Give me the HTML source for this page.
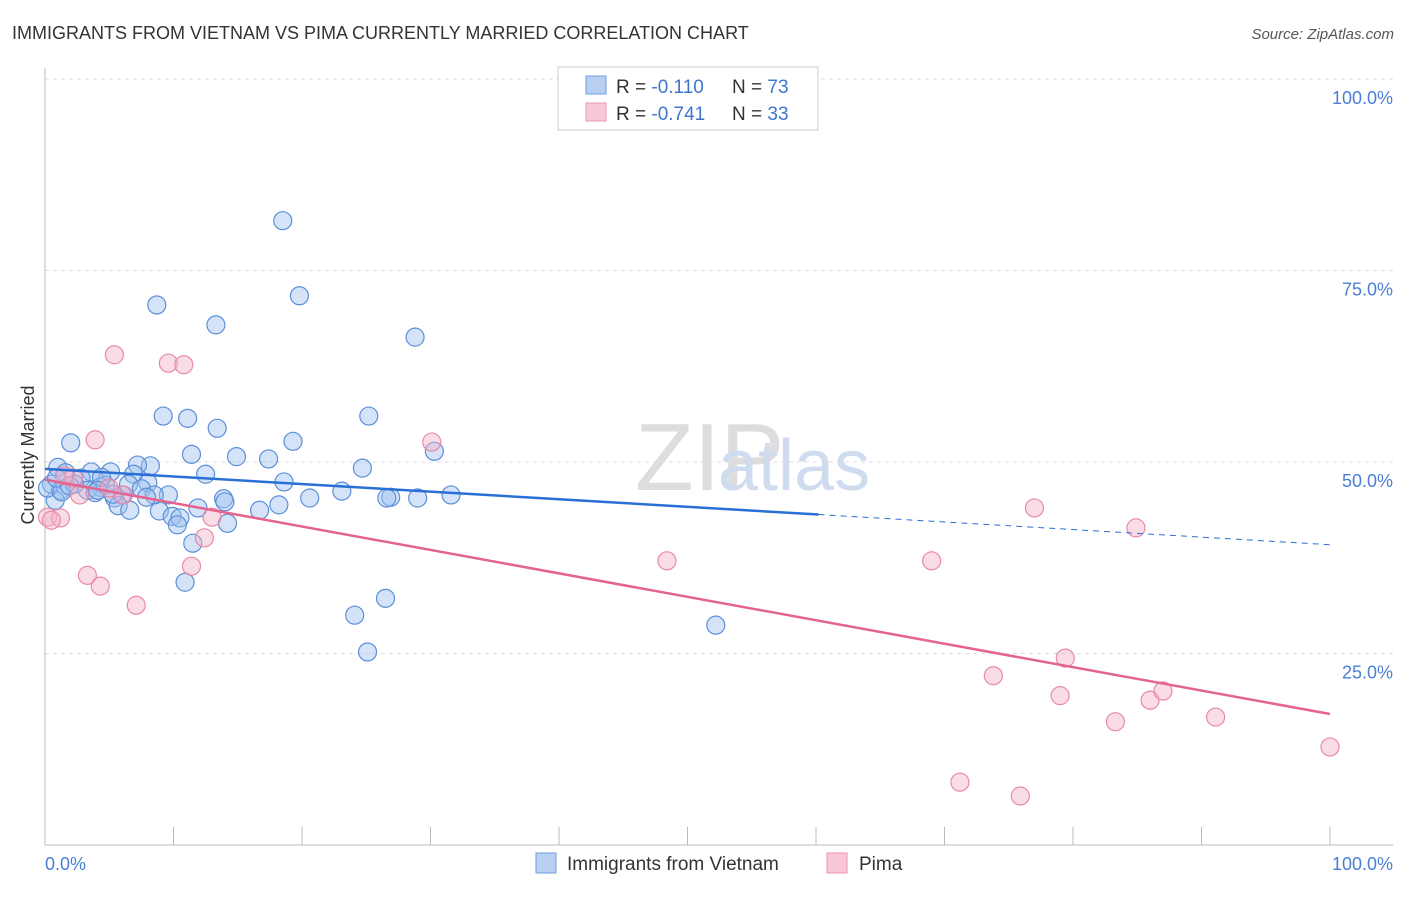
<!DOCTYPE html>
<html><head><meta charset="utf-8"><style>
body{margin:0;background:#fff;font-family:"Liberation Sans",sans-serif;}
svg text{font-family:"Liberation Sans",sans-serif;}
</style></head><body>
<svg width="1406" height="892" xmlns="http://www.w3.org/2000/svg" id="chart">
<text x="12" y="39" font-size="18" fill="#333">IMMIGRANTS FROM VIETNAM VS PIMA CURRENTLY MARRIED CORRELATION CHART</text>
<text x="1394" y="39" font-size="15" fill="#555" text-anchor="end" font-style="italic">Source: ZipAtlas.com</text>
<text x="635" y="490" font-size="96" fill="#ddd" font-family="Liberation Serif">ZIP</text>
<text x="718" y="490" font-size="72" fill="#cfdcf0">atlas</text>
<g id="grid"></g>
<g id="axes"></g>
<g id="pts"></g>
<g id="trends"></g>
<text transform="translate(34,455) rotate(-90)" font-size="18" fill="#333" text-anchor="middle">Currently Married</text>
<text x="45" y="870" font-size="18" fill="#4a7fd4">0.0%</text>
<text x="1393" y="870" font-size="18" fill="#4a7fd4" text-anchor="end">100.0%</text>
<g>
<rect x="558" y="67" width="260" height="63" fill="#fff" stroke="#ccc"/>
<rect x="586" y="76" width="20" height="18" fill="#b9d0f3" stroke="#6f9ee0"/>
<rect x="586" y="103" width="20" height="18" fill="#f8c8d7" stroke="#ec93b0"/>
<text x="616" y="93" font-size="19" fill="#333">R = <tspan fill="#3f74cf">-0.110</tspan><tspan x="732">N = </tspan><tspan fill="#3f74cf">73</tspan></text>
<text x="616" y="120" font-size="19" fill="#333">R = <tspan fill="#3f74cf">-0.741</tspan><tspan x="732">N = </tspan><tspan fill="#3f74cf">33</tspan></text>
</g>
<g>
<rect x="536" y="853" width="20" height="20" fill="#b9d0f3" stroke="#6f9ee0"/>
<text x="567" y="870" font-size="19" fill="#333">Immigrants from Vietnam</text>
<rect x="827" y="853" width="20" height="20" fill="#f8c8d7" stroke="#ec93b0"/>
<text x="859" y="870" font-size="19" fill="#333">Pima</text>
</g>
</svg>
<script>
const yTicks=[25,50,75,100];
const yTickLabels=["25.0%","50.0%","75.0%","100.0%"];
const blueX=[18.5,19.8,8.7,13.3,28.8,9.2,11.1,25.2,13.4,2.0,19.3,30.3,11.4,14.9,17.4,8.2,1.0,7.2,24.7,3.6,12.5,5.1,6.9,1.6,2.8,18.6,8.0,6.5,0.5,4.3,1.2,3.3,7.5,23.1,3.9,6.0,9.6,31.6,20.6,26.9,29.0,26.6,13.9,14.0,5.4,0.8,5.7,11.9,6.6,8.9,16.7,18.2,9.9,10.5,14.2,10.3,11.5,10.9,24.1,26.5,25.1,52.2,0.2,1.3,2.3,4.7,8.5,7.9,4.4,1.9,0.9,4.1,5.3];
const blueY=[81.5,71.7,70.5,67.9,66.3,56.0,55.7,56.0,54.4,52.5,52.7,51.4,51.0,50.7,50.4,49.5,49.3,49.6,49.2,48.7,48.4,48.7,48.4,48.6,47.9,47.4,47.3,47.1,47.1,46.7,46.3,46.3,46.5,46.2,46.0,45.7,45.7,45.7,45.3,45.4,45.3,45.3,45.2,44.8,45.3,45.0,44.3,44.0,43.7,43.6,43.7,44.4,42.9,42.7,42.0,41.8,39.4,34.3,30.0,32.2,25.2,28.7,46.6,46.1,47.1,47.0,45.7,45.4,48.0,46.9,47.9,46.3,45.8];
const pinkX=[5.4,9.6,10.8,3.9,30.1,0.2,1.2,3.3,4.3,7.1,11.4,12.4,13.0,2.7,6.1,2.2,48.4,69.0,77.0,84.9,73.8,79.4,79.0,83.3,86.0,87.0,91.1,100,71.2,75.9,5.0,1.5,0.5];
const pinkY=[64.0,62.9,62.7,52.9,52.6,42.8,42.7,35.2,33.8,31.3,36.4,40.1,42.8,45.7,45.7,47.9,37.1,37.1,44.0,41.4,22.1,24.4,19.5,16.1,18.9,20.1,16.7,12.8,8.2,6.4,46.6,48.2,42.4];
const blueTrend=[49.1,39.2];
const blueSolidEnd=60.2;
const pinkTrend=[47.7,17.1];
const NS="http://www.w3.org/2000/svg";
const sx=v=>45+v*12.85, sy=v=>845-v*7.66;
function mk(t,a,p){const e=document.createElementNS(NS,t);for(const k in a)e.setAttribute(k,a[k]);p.appendChild(e);return e;}
const grid=document.getElementById('grid'),axes=document.getElementById('axes'),pts=document.getElementById('pts'),tr=document.getElementById('trends');
yTicks.forEach((t,i)=>{
 const l=mk('line',{x1:45,x2:1393,y1:sy(t),y2:sy(t),stroke:'#ddd','stroke-dasharray':'4,4'},grid);
 
 
 const tx=mk('text',{x:1393,y:sy(t)+25,'font-size':18,fill:'#4a7fd4','text-anchor':'end'},grid);
 tx.textContent=yTickLabels[i];
 
 
});
const ya=mk('line',{x1:45,x2:45,y1:68,y2:845,stroke:'#bbb'},axes);


const xa=mk('line',{x1:45,x2:1393,y1:845,y2:845,stroke:'#bbb'},axes);


for(let i=1;i<=10;i++){const t=mk('line',{x1:sx(i*10),x2:sx(i*10),y1:827,y2:845,stroke:'#bbb'},axes);
 
 }
blueX.forEach((x,i)=>{const c=mk('circle',{cx:sx(x),cy:sy(blueY[i]),r:9,fill:'rgba(160,192,240,0.45)',stroke:'#5b8fd9','stroke-width':1.2},pts);
 
 });
pinkX.forEach((x,i)=>{const c=mk('circle',{cx:sx(x),cy:sy(pinkY[i]),r:9,fill:'rgba(245,178,200,0.45)',stroke:'#e88aa8','stroke-width':1.2},pts);
 
 });
const by=x=>blueTrend[0]+(blueTrend[1]-blueTrend[0])*x/100;
const b1=mk('line',{x1:sx(0),y1:sy(by(0)),x2:sx(blueSolidEnd),y2:sy(by(blueSolidEnd)),stroke:'#2a6fd6','stroke-width':2.5},tr);


const b2=mk('line',{x1:sx(blueSolidEnd),y1:sy(by(blueSolidEnd)),x2:sx(100),y2:sy(by(100)),stroke:'#2a6fd6','stroke-width':1,'stroke-dasharray':'6,5'},tr);


const p1=mk('line',{x1:sx(0),y1:sy(pinkTrend[0]),x2:sx(100),y2:sy(pinkTrend[1]),stroke:'#e4648f','stroke-width':2.5},tr);


</script>
</body></html>
